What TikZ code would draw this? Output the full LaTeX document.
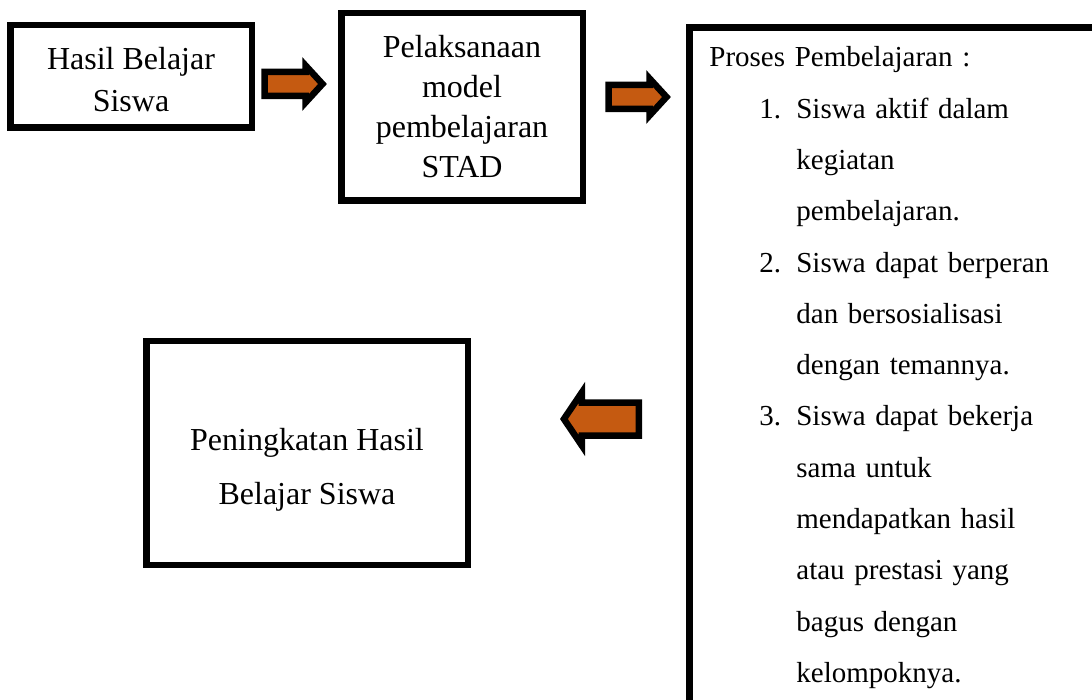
\documentclass[tikz,border=0pt]{standalone}
\usepackage{fontspec}
\setmainfont{Liberation Serif}
\usetikzlibrary{shapes.arrows}
\definecolor{oranye}{HTML}{C55A11}
\newcommand{\butir}[1]{\hspace*{50pt}\makebox[37pt][l]{#1}}
\newcommand{\lanjut}{\hspace*{87pt}}
\tikzset{
    box/.style = {draw = black, line width = 6.5pt, align = center, inner sep = 0pt},
    blockarrow/.style = {single arrow, draw = black, fill = oranye, line width = 6.5pt, inner xsep = 0pt}
}
\begin{document}
\begin{tikzpicture}[x = 1pt, y = -1pt]
            \useasboundingbox (0, 0) rectangle (1092, 700);
            \node[box, minimum width = 241.5pt, minimum height = 102.5pt, font = \fontsize{32}{42}\selectfont] (hasil) at (131, 76.5) {\rule{0pt}{28pt}Hasil Belajar \\ Siswa};
            \node[box, minimum width = 241.5pt, minimum height = 187.5pt, font = \fontsize{32}{40}\selectfont] (stad) at (462, 107) {Pelaksanaan \\ model \\ pembelajaran \\ STAD};
            \node[box, anchor = north west, minimum width = 413.75pt, minimum height = 676pt, align = left, text width = 374pt, inner xsep = 19pt, font = \fontsize{29}{51.3}\selectfont] (proses) at (686.25, 24.5) {\rule{0pt}{24pt}Proses Pembelajaran : \\
                \butir{1.}Siswa aktif dalam \\
                \lanjut kegiatan \\
                \lanjut pembelajaran. \\
                \butir{2.}Siswa dapat berperan \\
                \lanjut dan bersosialisasi \\
                \lanjut dengan temannya. \\
                \butir{3.}Siswa dapat bekerja \\
                \lanjut sama untuk \\
                \lanjut mendapatkan hasil \\
                \lanjut atau prestasi yang \\
                \lanjut bagus dengan \\
                \lanjut kelompoknya.};
            \node[box, minimum width = 321.5pt, minimum height = 223.5pt, font = \fontsize{32}{54}\selectfont] (peningkatan) at (307, 453) {\rule{0pt}{55pt}Peningkatan Hasil \\ Belajar Siswa};

            \node[blockarrow, minimum height = 58pt, minimum width = 32pt, inner ysep = 8.75pt, single arrow head extend = 6.5pt, single arrow tip angle = 95] (panah1) at (288, 84) {};
            \node[blockarrow, minimum height = 58pt, minimum width = 32pt, inner ysep = 8.75pt, single arrow head extend = 6.5pt, single arrow tip angle = 95] (panah2) at (632, 97) {};
            \node[blockarrow, minimum height = 75pt, minimum width = 48pt, inner ysep = 13.25pt, single arrow head extend = 10pt, single arrow tip angle = 112, shape border rotate = 180] (panah3) at (607, 419) {};
        \end{tikzpicture}
\end{document}
